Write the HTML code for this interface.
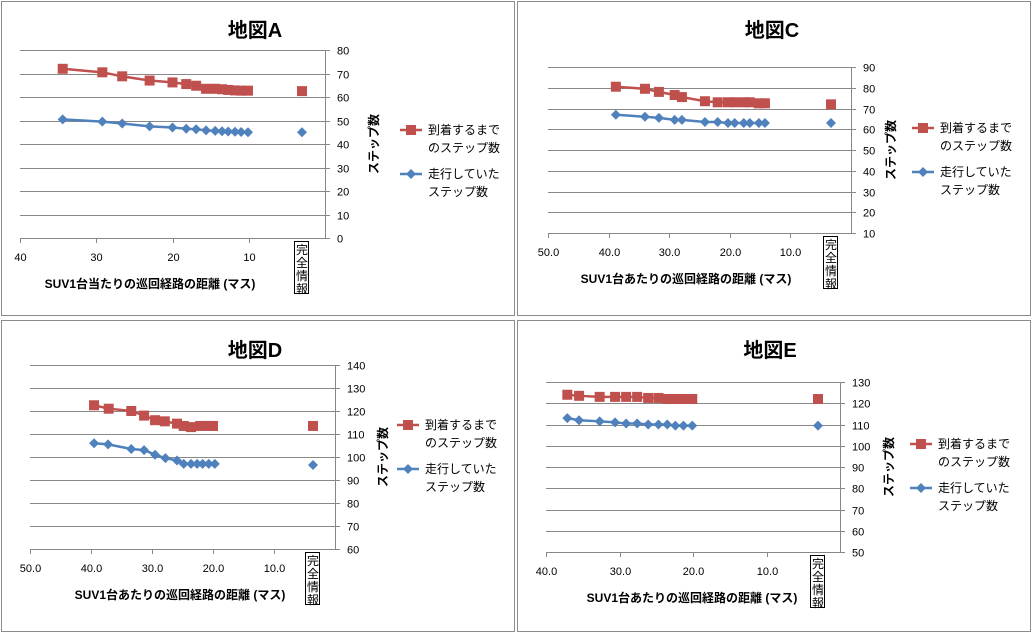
<!DOCTYPE html>
<html><head><meta charset="utf-8"><style>
body{margin:0;background:#fff;width:1033px;height:638px;overflow:hidden;font-family:"Liberation Sans","Noto Sans CJK JP",sans-serif}
svg text{font-family:"Liberation Sans","Noto Sans CJK JP",sans-serif}
</style></head><body>
<svg id="root" width="1033" height="638" xmlns="http://www.w3.org/2000/svg"></svg>
<script>
// Map A
const aArrX=[34.4,29.2,26.6,23.0,20.0,18.2,16.9,15.6,14.4,13.5,12.7,11.8,11.0,10.1];
const aArrY=[72,70.5,68.8,67,66.2,65.5,64.8,63.5,63.5,63.3,63,62.8,62.7,62.7];
const aRunX=[34.4,29.2,26.6,23.0,20.0,18.2,16.9,15.6,14.4,13.5,12.7,11.8,11.0,10.1];
const aRunY=[50.5,49.5,48.7,47.5,47,46.5,46.3,45.8,45.6,45.4,45.3,45.2,45.1,45];
const aFull=[62.5,45];
const aXTicks=["40","30","20","10"];
// Map C
const cArrX=[38.8,34.0,31.7,29.1,27.9,24.1,22.0,20.3,19.2,17.7,16.7,15.2,14.2];
const cArrY=[80.5,79.5,78,76.5,75.5,73.5,73,73,73,73,73,72.5,72.5];
const cRunX=[38.8,34.0,31.7,29.1,27.9,24.1,22.0,20.3,19.2,17.7,16.7,15.2,14.2];
const cRunY=[67,66,65.5,64.5,64.5,63.5,63.5,63,63,63,63,63,63];
const cFull=[72,63];
const cXTicks=["50.0","40.0","30.0","20.0","10.0"];
// Map D
const dArrX=[39.5,37.1,33.4,31.3,29.5,27.9,25.9,24.8,23.6,22.1,21.0,20.0];
const dArrY=[122.5,121,120,118,116,115.5,114.5,113.5,113,113.5,113.5,113.5];
const dRunX=[39.5,37.2,33.4,31.3,29.5,27.8,25.9,24.8,23.6,22.6,21.7,20.7,19.7];
const dRunY=[106,105.5,103.5,103,101,99.5,98.5,97,97,97,97,97,97];
const dFull=[113.5,96.5];
const dXTicks=["50.0","40.0","30.0","20.0","10.0"];
// Map E
const eArrX=[37.1,35.5,32.7,30.6,29.1,27.6,26.1,24.7,23.5,22.4,21.3,20.1];
const eArrY=[124,123.5,123,123,123,123,122.5,122.5,122,122,122,122];
const eRunX=[37.1,35.5,32.7,30.6,29.1,27.6,26.1,24.7,23.5,22.4,21.3,20.1];
const eRunY=[113,112,111.5,111,110.5,110.5,110,110,110,109.5,109.5,109.5];
const eFull=[122,109.5];
const eXTicks=["40.0","30.0","20.0","10.0"];

const NS="http://www.w3.org/2000/svg";
const root=document.getElementById('root');
function mk(tag,attrs,parent){const e=document.createElementNS(NS,tag);for(const k in attrs)e.setAttribute(k,attrs[k]);(parent||root).appendChild(e);return e;}

const charts=[
 {id:'a',title:'地図A',titleX:255,px:1,py:1,pw:514,ph:315,L:20,R:325,xmax:40,xt:10,yTopPx:50,yBotPx:238,ymin:0,ymax:80,ystep:10,fullPx:302,
  arrX:aArrX,arrY:aArrY,runX:aRunX,runY:aRunY,full:aFull,ticks:aXTicks,xlab:'SUV1台当たりの巡回経路の距離 (マス)',xlabX:150,ylabX:378,legX:400,legY:130,titleY:30},
 {id:'c',title:'地図C',titleX:772,px:517,py:1,pw:514,ph:315,L:548,R:851,xmax:50,xt:10,yTopPx:67,yBotPx:233,ymin:10,ymax:90,ystep:10,fullPx:831,
  arrX:cArrX,arrY:cArrY,runX:cRunX,runY:cRunY,full:cFull,ticks:cXTicks,xlab:'SUV1台あたりの巡回経路の距離 (マス)',xlabX:686,ylabX:895,legX:912,legY:128,titleY:30},
 {id:'d',title:'地図D',titleX:255,px:1,py:320,pw:514,ph:312,L:30,R:335,xmax:50,xt:10,yTopPx:365,yBotPx:549,ymin:60,ymax:140,ystep:10,fullPx:313,
  arrX:dArrX,arrY:dArrY,runX:dRunX,runY:dRunY,full:dFull,ticks:dXTicks,xlab:'SUV1台あたりの巡回経路の距離 (マス)',xlabX:180,ylabX:387,legX:397,legY:425,titleY:350},
 {id:'e',title:'地図E',titleX:770,px:517,py:320,pw:514,ph:312,L:546,R:840,xmax:40,xt:10,yTopPx:382,yBotPx:552,ymin:50,ymax:130,ystep:10,fullPx:818,
  arrX:eArrX,arrY:eArrY,runX:eRunX,runY:eRunY,full:eFull,ticks:eXTicks,xlab:'SUV1台あたりの巡回経路の距離 (マス)',xlabX:692,ylabX:893,legX:910,legY:444,titleY:350}
];

charts.forEach(c=>{
 const g=mk('g',{});
 
 
 const frame=mk('rect',{x:c.px+0.5,y:c.py+0.5,width:c.pw-1,height:c.ph-1,fill:'#fff',stroke:'#8c8c8c'},g);
 
 
 const xs=(v)=>c.R-v*(c.R-c.L)/c.xmax;
 const ys=(v)=>c.yBotPx-(v-c.ymin)*(c.yBotPx-c.yTopPx)/(c.ymax-c.ymin);
 const t=mk('text',{x:c.titleX,y:c.titleY+7,'font-size':20,'font-weight':'bold','text-anchor':'middle'},g);
 t.textContent=c.title;
 
 
 for(let v=c.ymin;v<=c.ymax;v+=c.ystep){
  const y=Math.round(ys(v))+0.5;
  if(v>c.ymin){const gl=mk('line',{x1:c.L,x2:c.R,y1:y,y2:y,stroke:'#888','stroke-width':1},g);
   
   }
  mk('line',{x1:c.R,x2:c.R+5,y1:y,y2:y,stroke:'#888'},g);
  const tl=mk('text',{x:c.R+12,y:y+4,'font-size':11},g);
  tl.textContent=v;
  
  
 }
 const ax=mk('line',{x1:c.R+0.5,x2:c.R+0.5,y1:c.yTopPx,y2:c.yBotPx,stroke:'#888'},g);
 
 
 const xa=mk('line',{x1:c.L,x2:c.R,y1:Math.round(c.yBotPx)+0.5,y2:Math.round(c.yBotPx)+0.5,stroke:'#888'},g);
 
 
 c.ticks.forEach((lab,i)=>{
  const v=c.xmax-i*c.xt; const x=Math.round(xs(v))+0.5;
  mk('line',{x1:x,x2:x,y1:c.yBotPx,y2:c.yBotPx+5,stroke:'#888'},g);
  const tl=mk('text',{x:x,y:c.yBotPx+23,'font-size':11,'text-anchor':'middle'},g);
  tl.textContent=lab;
  
  
 });
 const fg=mk('g',{},g);
 
 
 mk('rect',{x:c.fullPx-7.5,y:c.yBotPx+3.5,width:14,height:52,fill:'none',stroke:'#000'},fg);
 ['完','全','情','報'].forEach((ch,i)=>{const tt=mk('text',{x:c.fullPx,y:c.yBotPx+16+i*13,'font-size':12,'text-anchor':'middle'},fg);tt.textContent=ch;});
 const xl=mk('text',{x:c.xlabX,y:c.yBotPx+50,'font-size':12,'font-weight':'bold','text-anchor':'middle'},g);
 xl.textContent=c.xlab;
 
 
 const yl=mk('text',{x:0,y:0,'font-size':12,'font-weight':'bold','text-anchor':'middle',transform:`translate(${c.ylabX},${(c.yTopPx+c.yBotPx)/2}) rotate(-90)`},g);
 yl.textContent='ステップ数';
 
 
 const red='#c0504d', blue='#4f81bd';
 const rl=mk('polyline',{points:c.arrX.map((v,i)=>xs(v)+','+ys(c.arrY[i])).join(' '),fill:'none',stroke:red,'stroke-width':2.5},g);
 
 
 c.arrX.forEach((v,i)=>{const m=mk('rect',{x:xs(v)-5,y:ys(c.arrY[i])-5,width:10,height:10,fill:red},g);
  
  });
 const bl=mk('polyline',{points:c.runX.map((v,i)=>xs(v)+','+ys(c.runY[i])).join(' '),fill:'none',stroke:blue,'stroke-width':2.5},g);
 
 
 const dia=(x,y)=>`${x},${y-5} ${x+5},${y} ${x},${y+5} ${x-5},${y}`;
 c.runX.forEach((v,i)=>{const m=mk('polygon',{points:dia(xs(v),ys(c.runY[i])),fill:blue},g);
  
  });
 const fr=mk('rect',{x:c.fullPx-5,y:ys(c.full[0])-5,width:10,height:10,fill:red},g);
 
 
 const fb=mk('polygon',{points:dia(c.fullPx,ys(c.full[1])),fill:blue},g);
 
 
 const lg=mk('g',{},g);
 
 
 const lx=c.legX, ly=c.legY;
 mk('line',{x1:lx,x2:lx+22,y1:ly,y2:ly,stroke:red,'stroke-width':2.5},lg);
 mk('rect',{x:lx+6,y:ly-5,width:10,height:10,fill:red},lg);
 let tx=mk('text',{x:lx+28,y:ly+4,'font-size':12},lg);tx.textContent='到着するまで';
 tx=mk('text',{x:lx+28,y:ly+22,'font-size':12},lg);tx.textContent='のステップ数';
 mk('line',{x1:lx,x2:lx+22,y1:ly+44,y2:ly+44,stroke:blue,'stroke-width':2.5},lg);
 mk('polygon',{points:dia(lx+11,ly+44),fill:blue},lg);
 tx=mk('text',{x:lx+28,y:ly+48,'font-size':12},lg);tx.textContent='走行していた';
 tx=mk('text',{x:lx+28,y:ly+66,'font-size':12},lg);tx.textContent='ステップ数';
});
</script>
</body></html>
